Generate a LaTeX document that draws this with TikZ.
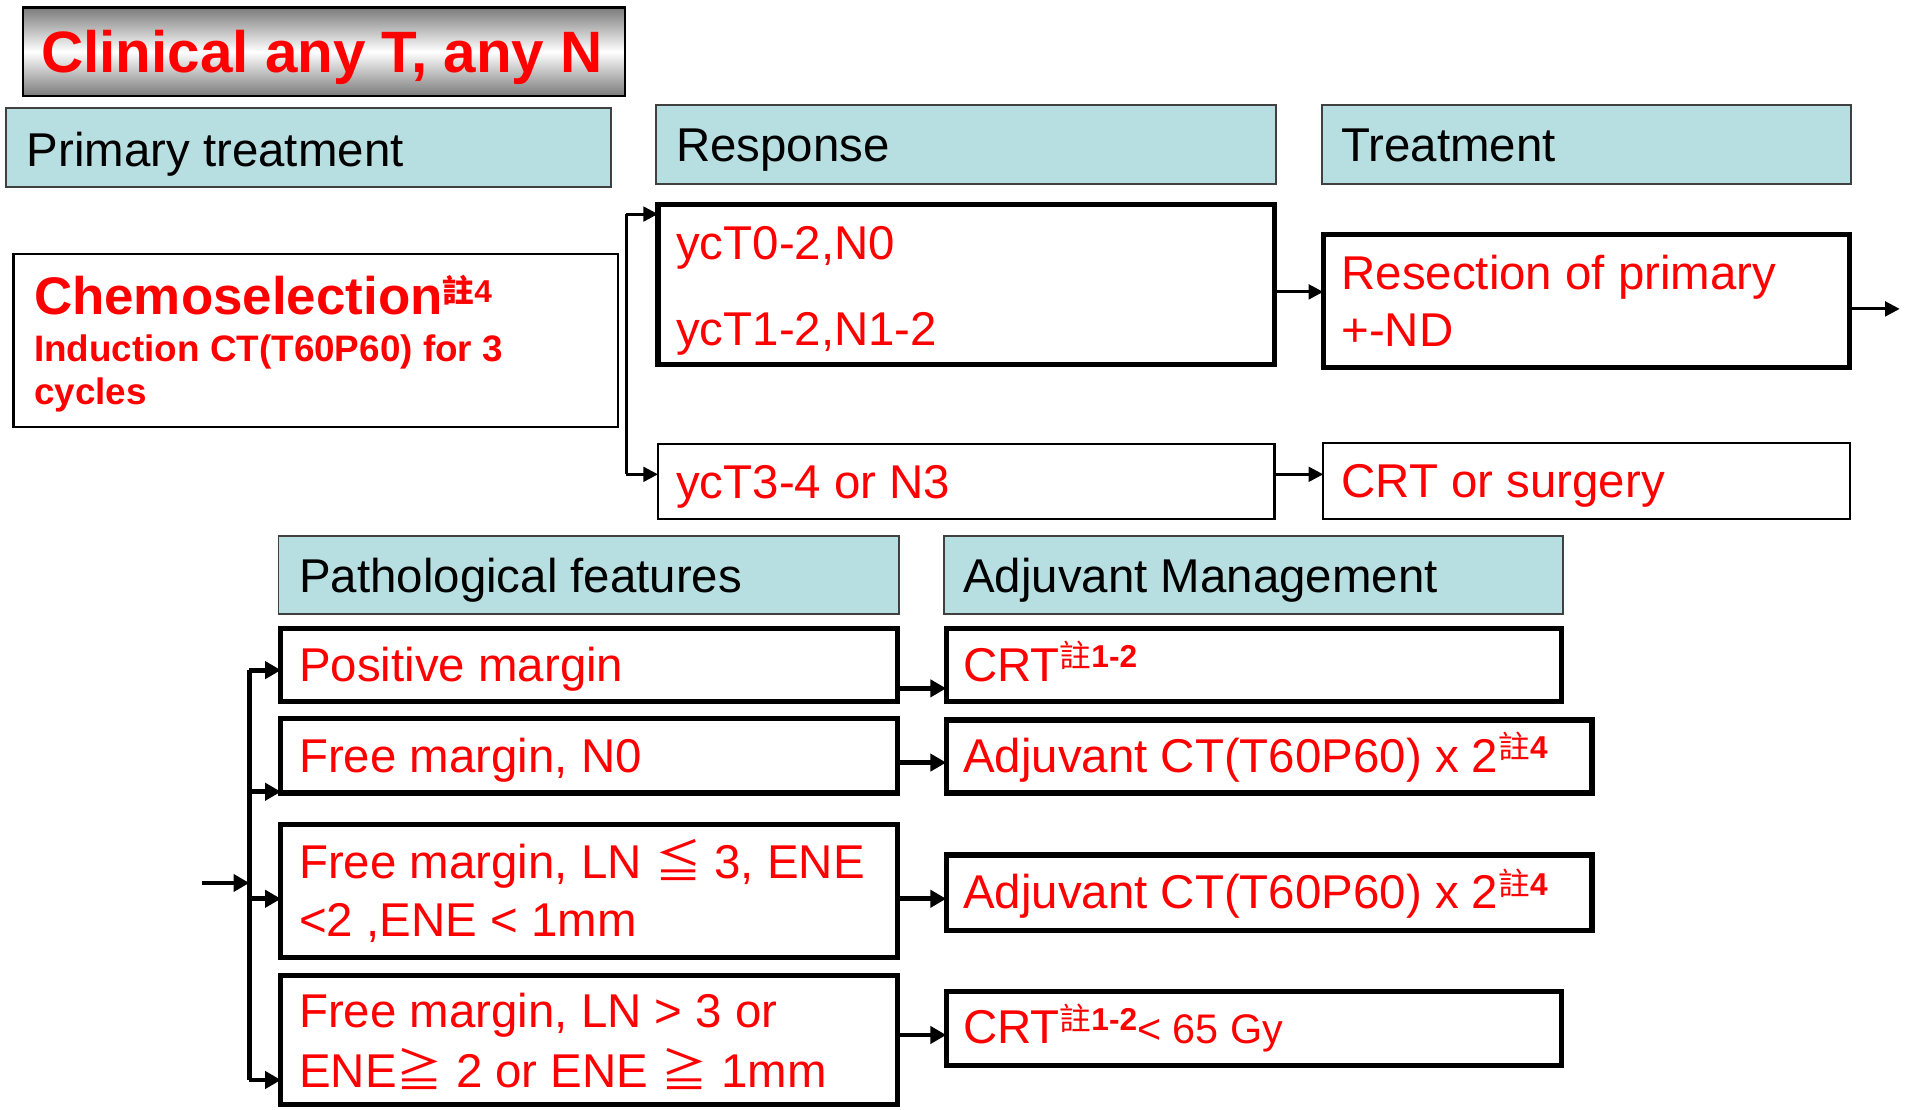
\documentclass[tikz,border=0pt]{standalone}
\usepackage{fontspec}
\setmainfont{Liberation Sans}
\newfontfamily\cjk{Noto Sans CJK TC}
\usetikzlibrary{arrows.meta}
\definecolor{hdr}{RGB}{183,222,224}
\definecolor{rd}{RGB}{255,0,0}
\newcommand\zhu[2][11pt]{\raisebox{#1}{\fontsize{26}{26}\selectfont{\cjk 註}\bfseries #2}}
\newcommand\fsmain{\fontsize{39}{46}\selectfont}
\newcommand\cj[1]{{\cjk\fontsize{38}{46}\selectfont #1}}
\begin{document}
\begin{tikzpicture}[x=1pt,y=-1pt,
  every node/.style={inner sep=0pt,outer sep=0pt},
  hbox/.style={draw=black!75,line width=1.6pt,fill=hdr,anchor=north west},
  bbox/.style={draw=black,line width=4.2pt,anchor=north west},
  tbox/.style={draw=black,line width=1.9pt,anchor=north west},
  htext/.style={anchor=base west,font=\fsmain,text=black},
  rtext/.style={anchor=base west,font=\fsmain,text=rd},
  arr/.style={line width=2.5pt,-{Triangle[length=12pt,width=12pt]}},
  arrB/.style={line width=4pt,-{Triangle[length=13pt,width=14pt]}},
  bar/.style={line width=2.5pt},
  barB/.style={line width=4pt}]
\useasboundingbox (0,0) rectangle (1568,912);

% title
\node[anchor=north west,draw=black,line width=2pt,top color=black!52,bottom color=black!52,middle color=white,
  minimum width=495pt,minimum height=73pt] (title) at (19,6) {};
\node[anchor=base west,text=rd,font=\fontsize{48}{56}\selectfont\bfseries] (titlet) at (34,60) {Clinical any T, any N};

% headers
\node[hbox,minimum width=497pt,minimum height=65pt] (hpt) at (5,89) {};
\node[htext] (hptt) at (22,137) {Primary treatment};
\node[hbox,minimum width=510pt,minimum height=65pt] (hre) at (539,86) {};
\node[htext] (hret) at (556,133) {Response};
\node[hbox,minimum width=435pt,minimum height=65pt] (htr) at (1087,86) {};
\node[htext] (htrt) at (1103,133) {Treatment};
\node[hbox,minimum width=510pt,minimum height=64pt] (hpf) at (229,441) {};
\node[htext] (hpft) at (246,487) {Pathological features};
\node[hbox,minimum width=509pt,minimum height=64pt] (ham) at (776,441) {};
\node[htext] (hamt) at (792,487) {Adjuvant Management};

% chemoselection
\node[tbox,minimum width=497pt,minimum height=142pt] (chemo) at (11,209) {};
\node[anchor=base west,text=rd,font=\fontsize{43.5}{50}\selectfont\bfseries] (chemo1) at (28,259) {Chemoselection\zhu[10pt]{4}};
\node[anchor=base west,text=rd,font=\fontsize{30.3}{36}\selectfont\bfseries] (chemo2) at (28,297.5) {Induction CT(T60P60) for 3};
\node[anchor=base west,text=rd,font=\fontsize{30.3}{36}\selectfont\bfseries] (chemo3) at (28,333) {cycles};

% response boxes
\node[bbox,minimum width=507pt,minimum height=132pt] (yc1) at (541,168) {};
\node[rtext] (yc1a) at (556,213) {ycT0-2,N0};
\node[rtext] (yc1b) at (556,284) {ycT1-2,N1-2};
\node[tbox,minimum width=507pt,minimum height=62pt] (yc3) at (541,365) {};
\node[rtext] (yc3t) at (556,410) {ycT3-4 or N3};

% treatment boxes
\node[bbox,minimum width=433pt,minimum height=109pt] (res) at (1088,193) {};
\node[rtext] (resa) at (1103,238) {Resection of primary};
\node[rtext] (resb) at (1103,284.5) {+-ND};
\node[tbox,minimum width=433pt,minimum height=63pt] (crts) at (1088,364) {};
\node[rtext] (crtst) at (1103,409) {CRT or surgery};

% pathological boxes
\node[bbox,minimum width=507pt,minimum height=60pt] (pm) at (231,517) {};
\node[rtext] (pmt) at (246,560) {Positive margin};
\node[bbox,minimum width=507pt,minimum height=61pt] (fm0) at (231,591) {};
\node[rtext] (fm0t) at (246,635) {Free margin, N0};
\node[bbox,minimum width=507pt,minimum height=109pt] (fm1) at (231,678) {};
\node[rtext] (fm1a) at (246,722) {Free margin, LN \cj{≦} 3, ENE};
\node[rtext] (fm1b) at (246,770) {<2 ,ENE < 1mm};
\node[bbox,minimum width=507pt,minimum height=106pt] (fm2) at (231,802) {};
\node[rtext] (fm2a) at (246,845) {Free margin, LN > 3 or};
\node[rtext] (fm2b) at (246,894) {ENE\cj{≧} 2 or ENE \cj{≧} 1mm};

% adjuvant boxes
\node[bbox,minimum width=506pt,minimum height=60pt] (crt1) at (778,517) {};
\node[rtext] (crt1t) at (792,560) {CRT\zhu{1-2}};
\node[bbox,minimum width=531pt,minimum height=60pt] (adj1) at (778,592) {};
\node[rtext] (adj1t) at (792,635) {Adjuvant CT(T60P60) x 2\zhu{4}};
\node[bbox,minimum width=531pt,minimum height=62pt] (adj2) at (778,703) {};
\node[rtext] (adj2t) at (792,747) {Adjuvant CT(T60P60) x 2\zhu{4}};
\node[bbox,minimum width=506pt,minimum height=61pt] (crt2) at (778,815) {};
\node[rtext] (crt2t) at (792,858) {CRT\zhu{1-2}{\fontsize{34}{40}\selectfont< 65 Gy}};

% upper connectors
\coordinate (s1) at (515,176);
\coordinate (s2) at (515,390);
\draw[bar] (s1) -- (s2);
\draw[arr] (s1) -- (s1 -| yc1.west);
\draw[arr] (s2) -- (s2 -| yc3.west);
\draw[arr] ([yshift=-6pt]yc1.east) -- ([yshift=-6pt]yc1.east -| res.west);
\draw[arr] ([yshift=6pt]yc3.east) -- ([yshift=6pt]yc3.east -| crts.west);
\coordinate (rout) at (1562,254);
\draw[arr] (res.east |- rout) -- (rout);

% lower connectors
\coordinate (in) at (166,726);
\coordinate (v1) at (205,551);
\coordinate (v2) at (205,651);
\coordinate (v3) at (205,739);
\coordinate (v4) at (205,888);
\draw[barB] (v1) -- (v4);
\draw[arrB] (in) -- (in -| v1);
\draw[arrB] (v1) -- (v1 -| pm.west);
\draw[arrB] (v2) -- (v2 -| fm0.west);
\draw[arrB] (v3) -- (v3 -| fm1.west);
\draw[arrB] (v4) -- (v4 -| fm2.west);
\draw[arrB] ([yshift=-19pt]pm.east) -- ([yshift=-19pt]pm.east -| crt1.west);
\draw[arrB] ([yshift=-5.5pt]fm0.east) -- ([yshift=-5.5pt]fm0.east -| adj1.west);
\draw[arrB] ([yshift=-6.5pt]fm1.east) -- ([yshift=-6.5pt]fm1.east -| adj2.west);
\draw[arrB] ([yshift=4pt]fm2.east) -- ([yshift=4pt]fm2.east -| crt2.west);
\end{tikzpicture}
\end{document}
